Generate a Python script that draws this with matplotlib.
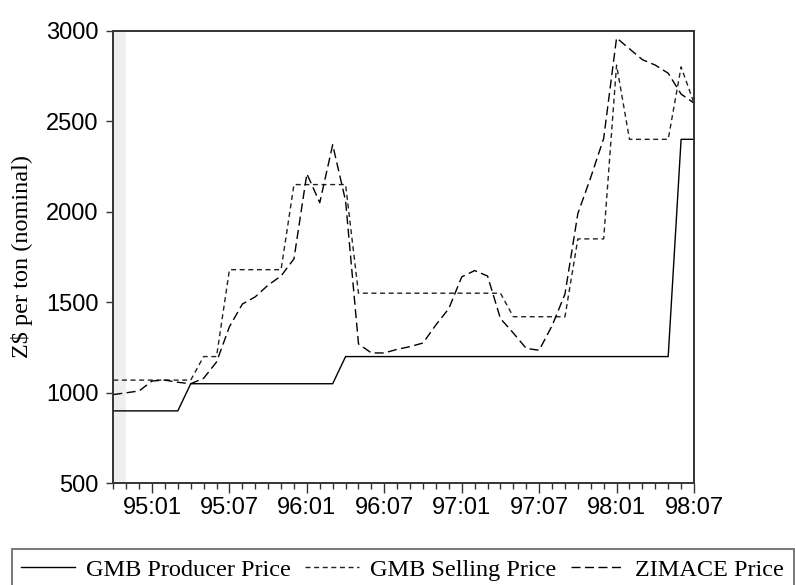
import matplotlib
matplotlib.use("Agg")
import matplotlib.pyplot as plt
from matplotlib.ticker import FixedLocator, MultipleLocator

plt.rcParams['lines.scale_dashes'] = False

# Monthly data, 1994:10 .. 1998:07
months = ["94:10", "94:11", "94:12",
          "95:01", "95:02", "95:03", "95:04", "95:05", "95:06", "95:07", "95:08", "95:09", "95:10", "95:11", "95:12",
          "96:01", "96:02", "96:03", "96:04", "96:05", "96:06", "96:07", "96:08", "96:09", "96:10", "96:11", "96:12",
          "97:01", "97:02", "97:03", "97:04", "97:05", "97:06", "97:07", "97:08", "97:09", "97:10", "97:11", "97:12",
          "98:01", "98:02", "98:03", "98:04", "98:05", "98:06", "98:07"]

gmb_producer = [900, 900, 900, 900, 900, 900,
                1050, 1050, 1050, 1050, 1050, 1050, 1050, 1050, 1050, 1050, 1050, 1050,
                1200, 1200, 1200, 1200, 1200, 1200, 1200, 1200, 1200, 1200, 1200, 1200, 1200,
                1200, 1200, 1200, 1200, 1200, 1200, 1200, 1200, 1200, 1200, 1200, 1200, 1200,
                2400, 2400]

gmb_selling = [1070, 1070, 1070, 1070, 1070, 1070, 1070,
               1200, 1200,
               1680, 1680, 1680, 1680, 1680,
               2150, 2150, 2150, 2150, 2150,
               1550, 1550, 1550, 1550, 1550, 1550, 1550, 1550, 1550, 1550, 1550, 1550,
               1420, 1420, 1420, 1420, 1420,
               1850, 1850, 1850,
               2810,
               2400, 2400, 2400, 2400,
               2800, 2600]

zimace = [990, 1000, 1010, 1065, 1070, 1058, 1050, 1080, 1170, 1365, 1490, 1530, 1595, 1645, 1740,
          2210, 2050, 2370, 2060, 1270, 1220, 1220, 1240, 1255, 1275, 1375, 1465,
          1640, 1675, 1645, 1410, 1330, 1245, 1235, 1370, 1545, 1990, 2190, 2405,
          2960, 2900, 2840, 2810, 2765, 2650, 2600]

series_labels = ["GMB Producer Price", "GMB Selling Price", "ZIMACE Price"]
y_label = "Z$ per ton (nominal)"
shaded_span = (0, 1)

fig = plt.figure(figsize=(7.95, 5.85), dpi=100)
ax = fig.add_axes([113.3 / 795, 1 - 483.3 / 585, (694 - 113.3) / 795, (483.3 - 30.7) / 585])

x = list(range(len(months)))
ax.axvspan(shaded_span[0], shaded_span[1], color='#efefef', lw=0, zorder=0)

ax.plot(x, gmb_producer, color='black', lw=1.0, label=series_labels[0])
ax.plot(x, gmb_selling, color='#222222', lw=1.0, dashes=(3.6, 2.6), label=series_labels[1])
ax.plot(x, zimace, color='black', lw=1.0, dashes=(6.5, 3.2), label=series_labels[2])

ax.set_xlim(0, len(months) - 1)
ax.set_ylim(500, 3000)

major_idx = [i for i, m in enumerate(months) if m.endswith(":01") or m.endswith(":07")]
ax.xaxis.set_major_locator(FixedLocator(major_idx))
ax.set_xticklabels([months[i] for i in major_idx])
ax.xaxis.set_minor_locator(MultipleLocator(1))
ax.yaxis.set_major_locator(MultipleLocator(500))

tick_font = {'family': 'Liberation Sans', 'size': 17}
for lab in ax.get_xticklabels() + ax.get_yticklabels():
    lab.set_fontfamily('Liberation Sans')
    lab.set_fontsize(17)

ax.tick_params(axis='x', which='major', direction='out', length=7, width=1.0, pad=3, color='#333333')
ax.tick_params(axis='x', which='minor', direction='out', length=4.3, width=1.0, color='#333333')
ax.tick_params(axis='y', which='major', direction='out', length=5, width=1.0, pad=5.5, color='#333333')
ax.tick_params(top=False, right=False)

for s in ax.spines.values():
    s.set_linewidth(1.4)
    s.set_color('#333333')

ax.set_ylabel(y_label, fontfamily='Liberation Serif', fontsize=17.5)
ax.yaxis.set_label_coords(-0.138, 0.5)

leg = fig.legend(loc='upper left', bbox_to_anchor=(11.7 / 795, 1 - 549 / 585),
                 ncol=3, frameon=True, fancybox=False,
                 prop={'family': 'Liberation Serif', 'size': 17.5},
                 handlelength=2.2, handletextpad=0.45, columnspacing=0.6,
                 borderpad=0.4, borderaxespad=0)
leg.get_frame().set_edgecolor('#555555')
leg.get_frame().set_linewidth(1.4)

fig.savefig("out.png", dpi=100)
